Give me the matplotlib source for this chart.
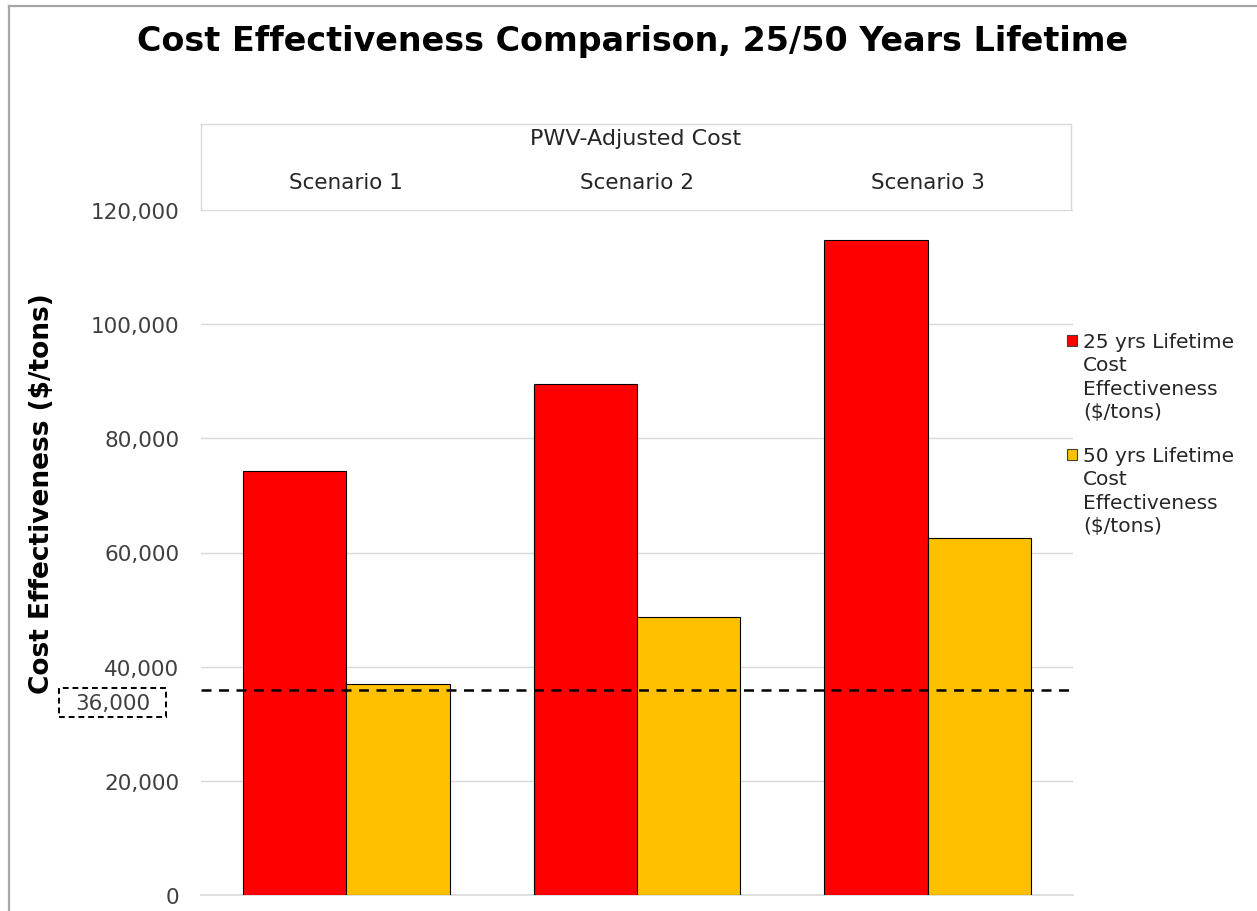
import matplotlib
matplotlib.use("Agg")
import matplotlib.pyplot as plt
from matplotlib.patches import Rectangle
from matplotlib.lines import Line2D
from matplotlib.ticker import FuncFormatter
import numpy as np

# Data
scenarios = ["Scenario 1", "Scenario 2", "Scenario 3"]
lifetime_25 = [74300, 89500, 114800]
lifetime_50 = [37000, 48700, 62500]
threshold = 36000
series_labels = ["25 yrs Lifetime\nCost\nEffectiveness\n($/tons)",
                 "50 yrs Lifetime\nCost\nEffectiveness\n($/tons)"]
series_colors = ["#FF0000", "#FFC000"]
group_title = "PWV-Adjusted Cost"
y_ticks = [0, 20000, 40000, 60000, 80000, 100000, 120000]

W, H = 1257, 912
fig = plt.figure(figsize=(W / 100, H / 100), dpi=100)
plt.rcParams["font.family"] = ["DejaVu Sans"]

def fx(px):
    return px / W

def fy(py):
    return 1 - py / H

grid_col = "#D9D9D9"
text_col = "#404040"

# Outer chart border
fig.add_artist(Line2D([fx(9), 1], [fy(7), fy(7)], color="#A6A6A6", lw=1.6))
fig.add_artist(Line2D([fx(9), fx(9)], [fy(7), 0], color="#A6A6A6", lw=1.6))

ax = fig.add_axes([fx(201), fy(896), fx(1073) - fx(201), fy(211) - fy(896)])
x = np.arange(len(scenarios))
bw = 0.355
ax.bar(x - bw / 2, lifetime_25, width=bw, color=series_colors[0],
       edgecolor="black", linewidth=0.8, zorder=3)
ax.bar(x + bw / 2, lifetime_50, width=bw, color=series_colors[1],
       edgecolor="black", linewidth=0.8, zorder=3)
ax.axhline(threshold, color="black", lw=1.8, ls=(0, (4, 3)), zorder=4)

ax.set_xlim(-0.5, len(scenarios) - 0.5)
ax.set_ylim(0, 120000)
ax.set_yticks(y_ticks)
ax.yaxis.set_major_formatter(FuncFormatter(lambda v, p: f"{int(v):,}"))
ax.tick_params(axis="y", length=0, pad=15.5, labelsize=15.5, labelcolor=text_col)
ax.set_xticks([])
ax.grid(axis="y", color=grid_col, lw=1, zorder=0)
for s in ["left", "right", "top"]:
    ax.spines[s].set_visible(False)
ax.spines["bottom"].set_color(grid_col)
ax.spines["bottom"].set_linewidth(1.2)

# Category header box above the plot
top_px = 125
fig.add_artist(Line2D([fx(201), fx(201)], [fy(211), fy(top_px)], color=grid_col, lw=1))
fig.add_artist(Line2D([fx(1071), fx(1071)], [fy(211), fy(top_px)], color=grid_col, lw=1))
fig.add_artist(Line2D([fx(201), fx(1071)], [fy(top_px), fy(top_px)], color=grid_col, lw=1))
fig.text(fx(636), fy(139), group_title, ha="center", va="center",
         fontsize=16, color="#262626")
for i, name in enumerate(scenarios):
    xd = ax.transData.transform((i, 0))[0]
    fig.text(xd / W, fy(183), name, ha="center", va="center",
             fontsize=15.5, color="#262626")

# Title and y label
fig.text(fx(633), fy(42), "Cost Effectiveness Comparison, 25/50 Years Lifetime",
         ha="center", va="center", fontsize=24, fontweight="bold")
fig.text(fx(42), fy(494), "Cost Effectiveness ($/tons)", rotation=90,
         ha="center", va="center", fontsize=19, fontweight="bold")

# Threshold label box
fig.add_artist(Rectangle((fx(59), fy(718)), fx(166) - fx(59), fy(689) - fy(718),
                         transform=fig.transFigure, fill=False, edgecolor="black",
                         lw=1.4, ls=(0, (3, 2))))
fig.text(fx(113), fy(704), f"{threshold:,}", ha="center", va="center",
         fontsize=15.5, color=text_col)

# Legend
for lab, col, ytop in zip(series_labels, series_colors, [336, 450]):
    fig.add_artist(Rectangle((fx(1067), fy(ytop + 11)), fx(10), 11 / H,
                             transform=fig.transFigure, facecolor=col,
                             edgecolor="#404040", lw=0.8))
    fig.text(fx(1083), fy(ytop - 3), lab, ha="left", va="top",
             fontsize=14.5, color="#262626", linespacing=1.3)

fig.savefig("out.png", dpi=100)
